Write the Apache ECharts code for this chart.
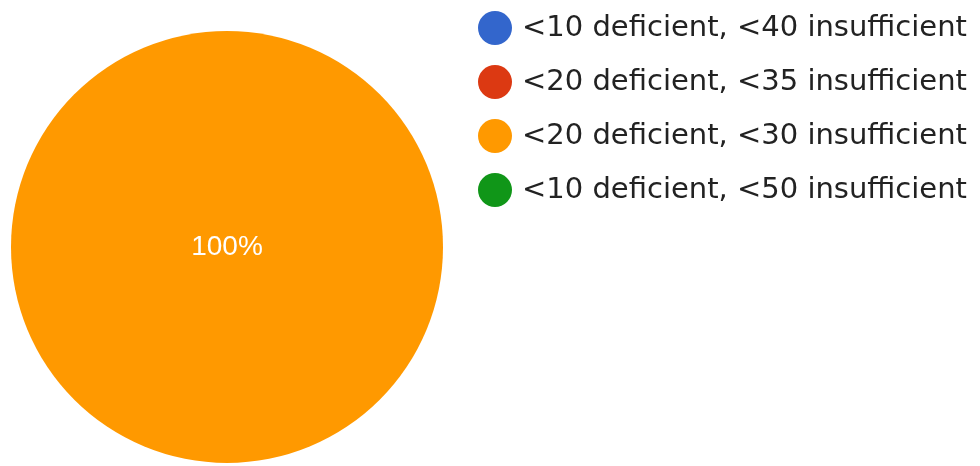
<!DOCTYPE html>
<html>
<head>
<meta charset="utf-8">
<script src="https://cdn.jsdelivr.net/npm/echarts@6/dist/echarts.min.js"></script>
<style>
  html, body { margin: 0; padding: 0; background: #fff; }
  #chart { width: 980px; height: 466px; }
</style>
</head>
<body>
<div id="chart"></div>
<script>
// Threshold definitions and how many responses chose each one
const categories = [
  '<10 deficient, <40 insufficient',
  '<20 deficient, <35 insufficient',
  '<20 deficient, <30 insufficient',
  '<10 deficient, <50 insufficient'
];
const responses = [0, 0, 1, 0];
const sliceColors = ['#3366cc', '#dc3912', '#ff9900', '#109618'];

const chart = echarts.init(document.getElementById('chart'), null, { renderer: 'canvas' });

chart.setOption({
  animation: false,
  color: sliceColors,
  legend: {
    orient: 'vertical',
    left: 473,
    top: 6,
    icon: 'circle',
    itemWidth: 34,
    itemHeight: 34,
    itemGap: 20,
    selectedMode: false,
    data: categories,
    textStyle: {
      fontFamily: 'DejaVu Sans, sans-serif',
      fontSize: 29,
      color: '#222222',
      padding: [0, 0, 0, 5]
    }
  },
  series: [{
    type: 'pie',
    center: [227, 247],
    radius: 216,
    startAngle: 90,
    avoidLabelOverlap: false,
    stillShowZeroSum: true,
    data: categories.map((name, i) => ({ name: name, value: responses[i] })),
    itemStyle: { borderWidth: 0 },
    label: {
      show: true,
      position: 'center',
      formatter: p => (p.value > 0 ? Math.round(p.percent) + '%' : ''),
      color: '#ffffff',
      fontFamily: 'Liberation Sans, Arial, sans-serif',
      fontSize: 28
    },
    labelLine: { show: false },
    emphasis: { disabled: true }
  }]
});
</script>
</body>
</html>
